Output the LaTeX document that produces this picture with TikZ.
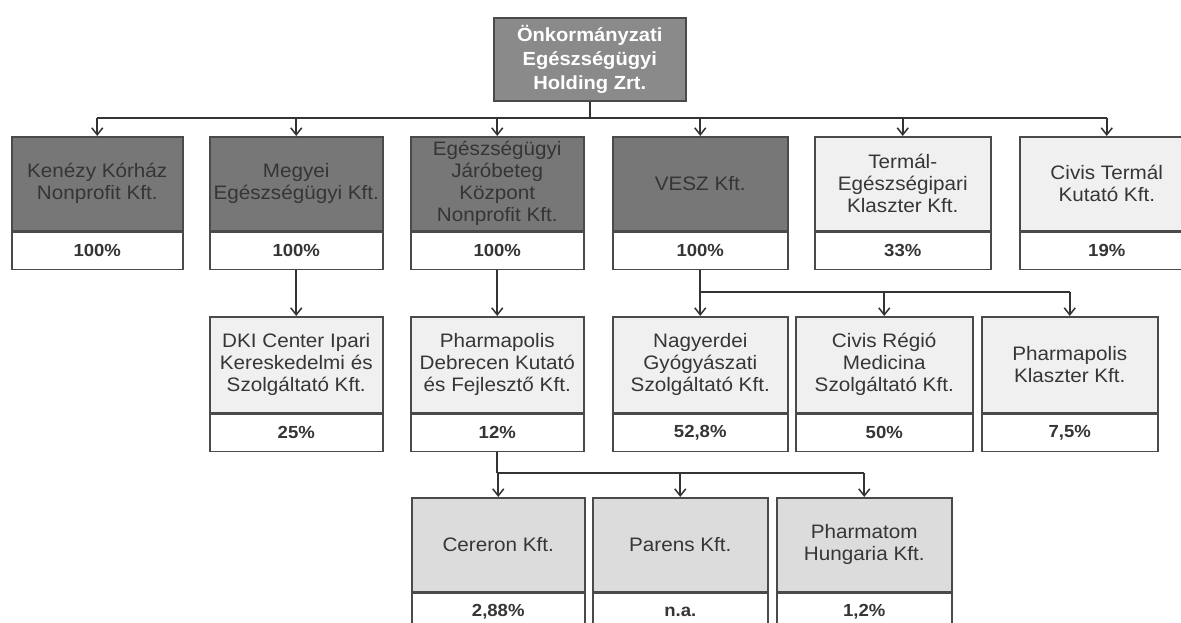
\documentclass[tikz,border=0pt]{standalone}
\usepackage{fontspec}
\setmainfont{Liberation Sans}[FakeStretch=1.06]
\usetikzlibrary{arrows.meta}
\definecolor{darkfill}{HTML}{777777}
\definecolor{darktext}{HTML}{353535}
\definecolor{topfill}{HTML}{8A8A8A}
\definecolor{lightfill}{HTML}{F0F0F0}
\definecolor{greyfill}{HTML}{DCDCDC}
\definecolor{edgecol}{HTML}{4A4A4A}
\definecolor{wire}{HTML}{333333}
\definecolor{txt}{HTML}{363636}
\newcommand{\mkfirm}[8]{%
  \node[#2, minimum width=#5pt, minimum height=#6pt] (#1) at (#3,#4) {#7};
  \node[pctbox, minimum width=#5pt] (#1p) at (#1.south) {#8};}
\begin{document}
\begin{tikzpicture}[x=1pt,y=-1pt,
  box/.style={draw=edgecol, line width=1.5pt, anchor=north west, inner sep=0pt, align=center,
    font=\fontsize{19.5}{22}\selectfont},
  namedark/.style={box, fill=darkfill, text=darktext},
  namelight/.style={box, fill=lightfill, text=txt},
  namegrey/.style={box, fill=greyfill, text=txt},
  pctbox/.style={draw=edgecol, line width=1.5pt, anchor=north, inner sep=0pt, fill=white, text=darktext,
    minimum height=37pt, font=\bfseries\fontsize{17.5}{20}\selectfont},
  conn/.style={draw=wire, line width=1.7pt},
  arr/.style={conn, -{Straight Barb[length=7pt,width=11pt,line width=1.5pt]}}]
\useasboundingbox (0,0) rectangle (1181,622);
\clip (0,0) rectangle (1181,622);
\fill[white] (0,0) rectangle (1181,622);

% top holding
\node[box, fill=topfill, text=white, minimum width=192pt, minimum height=83pt,
  font=\bfseries\fontsize{19}{24}\selectfont] (top) at (493,17)
  {Önkormányzati\\Egészségügyi\\Holding Zrt.};

% row 1
\mkfirm{ken}{namedark}{11}{136}{171}{94}{Kenézy Kórház\\Nonprofit Kft.}{100\%}
\mkfirm{meg}{namedark}{209}{136}{173}{94}{Megyei\\Egészségügyi Kft.}{100\%}
\mkfirm{egj}{namedark}{410}{136}{173}{94}{Egészségügyi\\Járóbeteg\\Központ\\Nonprofit Kft.}{100\%}
\mkfirm{vesz}{namedark}{612}{136}{175}{94}{VESZ Kft.}{100\%}
\mkfirm{term}{namelight}{814}{136}{176}{94}{Termál-\\Egészségipari\\Klaszter Kft.}{33\%}
\mkfirm{civ}{namelight}{1019}{136}{174}{94}{Civis Termál\\Kutató Kft.}{19\%}

% row 2
\mkfirm{dki}{namelight}{209}{316}{173}{96}{DKI Center Ipari\\Kereskedelmi és\\Szolgáltató Kft.}{25\%}
\mkfirm{phd}{namelight}{410}{316}{173}{96}{Pharmapolis\\Debrecen Kutató\\és Fejlesztő Kft.}{12\%}
\mkfirm{nagy}{namelight}{612}{316}{175}{96}{Nagyerdei\\Gyógyászati\\Szolgáltató Kft.}{52,8\%}
\mkfirm{civr}{namelight}{795}{316}{177}{96}{Civis Régió\\Medicina\\Szolgáltató Kft.}{50\%}
\mkfirm{phk}{namelight}{981}{316}{176}{96}{Pharmapolis\\Klaszter Kft.}{7,5\%}

% row 3
\mkfirm{cer}{namegrey}{411}{497}{173}{94}{Cereron Kft.}{2,88\%}
\mkfirm{par}{namegrey}{592}{497}{175}{94}{Parens Kft.}{n.a.}
\mkfirm{pht}{namegrey}{776}{497}{175}{94}{Pharmatom\\Hungaria Kft.}{1,2\%}

% connectors: holding
\coordinate (tb) at (0,118);
\draw[conn] (top.south) -- (top.south |- tb);
\draw[conn] (ken.north |- tb) -- (civ.north |- tb);
\foreach \n in {ken,meg,egj,vesz,term,civ}
  \draw[arr] (\n.north |- tb) -- (\n.north);

% row 1 -> row 2
\draw[arr] (megp.south) -- (megp.south |- dki.north);
\draw[arr] (egjp.south) -- (egjp.south |- phd.north);
\coordinate (vb) at (0,292);
\draw[conn] (veszp.south) -- (veszp.south |- vb);
\draw[conn] (nagy.north |- vb) -- (phk.north |- vb);
\foreach \n in {nagy,civr,phk}
  \draw[arr] (\n.north |- vb) -- (\n.north);

% row 2 -> row 3
\coordinate (pb) at (0,473);
\draw[conn] (phdp.south) -- (phdp.south |- pb);
\draw[conn] (phdp.south |- pb) -- (pht.north |- pb);
\foreach \n in {cer,par,pht}
  \draw[arr] (\n.north |- pb) -- (\n.north);
\end{tikzpicture}
\end{document}
